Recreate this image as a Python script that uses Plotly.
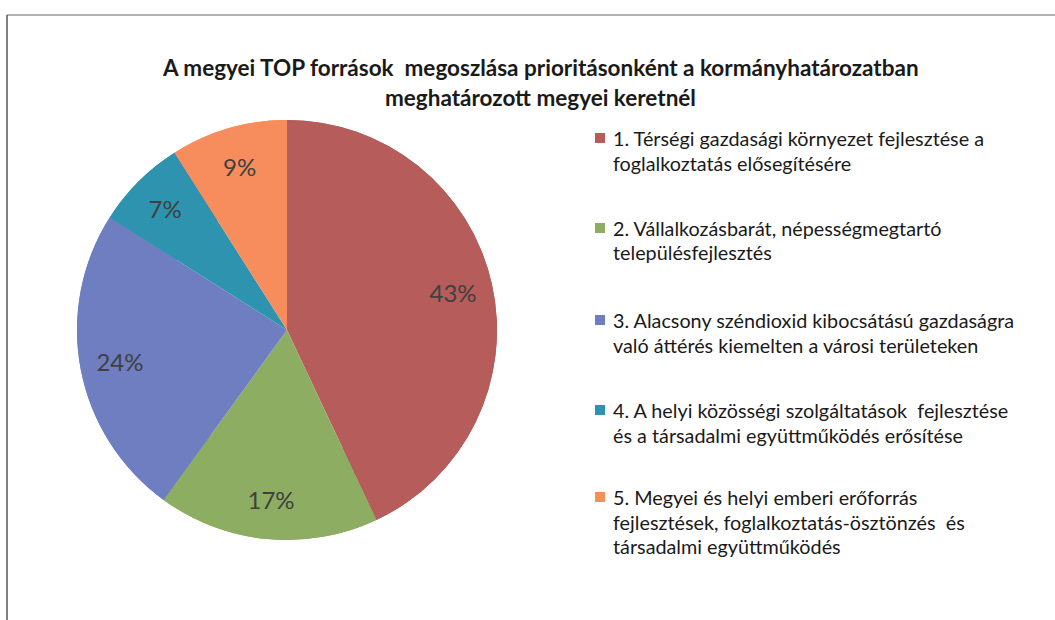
import plotly.graph_objects as go

title_lines = ["A megyei TOP források  megoszlása prioritásonként a kormányhatározatban",
               "meghatározott megyei keretnél"]
categories = [
    "1. Térségi gazdasági környezet fejlesztése a<br>foglalkoztatás elősegítésére",
    "2. Vállalkozásbarát, népességmegtartó<br>településfejlesztés",
    "3. Alacsony széndioxid kibocsátású gazdaságra<br>való áttérés kiemelten a városi területeken",
    "4. A helyi közösségi szolgáltatások  fejlesztése<br>és a társadalmi együttműködés erősítése",
    "5. Megyei és helyi emberi erőforrás<br>fejlesztések, foglalkoztatás-ösztönzés  és<br>társadalmi együttműködés",
]
values = [43, 17, 24, 7, 9]
colors = ["#B65C5A", "#8DAD62", "#6E7EC0", "#2D93AF", "#F78C5C"]

W, H = 1055, 620
FONT = "Lato"


def px(x):
    return x / W


def py(y):
    return 1 - y / H


dom = dict(x=[px(77), px(497)], y=[py(540), py(120)])

# full pie underneath (fills the centre)
fig = go.Figure(go.Pie(
    labels=categories, values=values, sort=False, direction="clockwise", rotation=0,
    marker=dict(colors=colors, line=dict(width=0)),
    textinfo="none", domain=dom, showlegend=False, hoverinfo="skip",
))
# ring on top carrying the percentage labels near the rim
fig.add_trace(go.Pie(
    labels=categories, values=values, sort=False, direction="clockwise", rotation=0,
    hole=0.62,
    marker=dict(colors=colors, line=dict(width=0)),
    texttemplate="%{percent:.0%}",
    textposition="inside",
    insidetextorientation="horizontal",
    textfont=dict(family=FONT, size=24, color="#404040"),
    domain=dom, showlegend=False, hoverinfo="label+percent",
))

annotations = []
for i, t in enumerate(title_lines):
    annotations.append(dict(
        text="<b>" + t + "</b>", x=px(540), y=py(68 + 29 * i),
        xref="paper", yref="paper", xanchor="center", yanchor="middle",
        showarrow=False, font=dict(family=FONT, size=22.5, color="#1a1a1a")))

shapes = [
    dict(type="line", xref="paper", yref="paper", x0=px(7), x1=1, y0=py(15), y1=py(15),
         line=dict(color="#666666", width=1.2)),
    dict(type="line", xref="paper", yref="paper", x0=px(7), x1=px(7), y0=0, y1=py(15),
         line=dict(color="#555555", width=1.5)),
]

item_y = [138, 228, 320, 410, 497]
line_gap = 24.5
for cat, col, y0 in zip(categories, colors, item_y):
    lines = cat.split("<br>")
    shapes.append(dict(type="rect", xref="paper", yref="paper",
                       x0=px(595), x1=px(605), y0=py(y0 + 5), y1=py(y0 - 5),
                       fillcolor=col, line=dict(width=0)))
    for j, ln in enumerate(lines):
        annotations.append(dict(
            text=ln, x=px(611), y=py(y0 + line_gap * j),
            xref="paper", yref="paper", xanchor="left", yanchor="middle",
            showarrow=False, font=dict(family=FONT, size=19.8, color="#1a1a1a")))

fig.update_layout(
    width=W, height=H,
    margin=dict(l=0, r=0, t=0, b=0),
    paper_bgcolor="white", plot_bgcolor="white",
    annotations=annotations, shapes=shapes,
)

fig.write_html("out.html", config={"displayModeBar": False},
               post_script="document.body.style.margin='0';")
